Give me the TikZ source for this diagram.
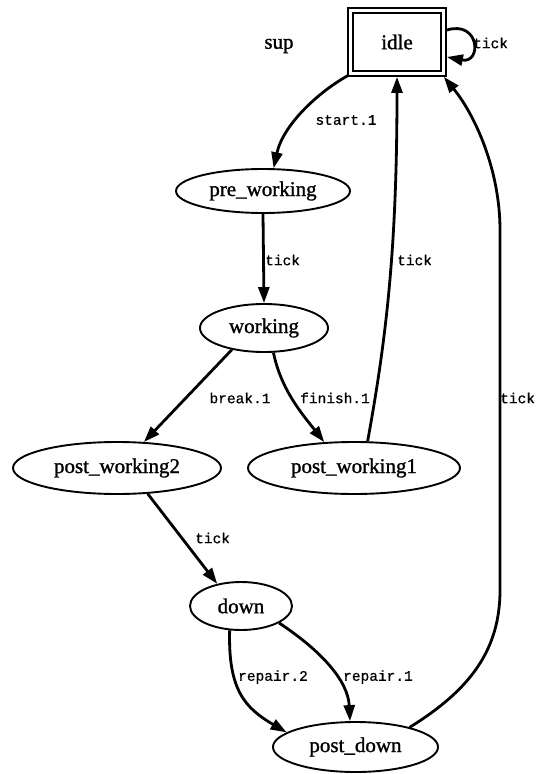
\documentclass[tikz,border=0pt]{standalone}
\usepackage{fontspec}
\setmainfont{Liberation Serif}
\newfontfamily\statefont[FakeBold=1.2]{Liberation Serif}
\newfontfamily\lblfont[FakeBold=0.6]{Liberation Mono}
\usetikzlibrary{arrows.meta,shapes.geometric}

\tikzset{
  state/.style={ellipse, draw, line width=1.9pt, inner sep=0pt, outer sep=0.95pt,
    font=\statefont\fontsize{21}{24}\selectfont},
  initstate/.style={rectangle, draw, line width=1.9pt, double, double distance=3pt,
    inner sep=0pt, outer sep=3.4pt, minimum width=93pt, minimum height=63pt,
    font=\statefont\fontsize{21}{24}\selectfont},
  trans/.style={line width=2.8pt, -{Triangle[length=16pt,width=11pt]}},
  tlabel/.style={font=\lblfont\fontsize{14.5}{17}\selectfont, inner sep=0pt},
}

\begin{document}
\begin{tikzpicture}[x=1pt, y=-1pt]
\useasboundingbox (0,0) rectangle (545,774);

% states
\node[initstate] (idle) at (397,42) {idle};
\node[font=\statefont\fontsize{21}{24}\selectfont] (sup) at (279,46) {sup};
\node[state, minimum width=174pt, minimum height=44pt] (pre)  at (263,191) {pre\_working};
\node[state, minimum width=128pt, minimum height=48pt] (work) at (264,328) {working};
\node[state, minimum width=208pt, minimum height=52pt] (pw2)  at (117,468) {post\_working2};
\node[state, minimum width=212pt, minimum height=52pt] (pw1)  at (354,468) {post\_working1};
\node[state, minimum width=102pt, minimum height=48pt] (down) at (241,606) {down};
\node[state, minimum width=165pt, minimum height=50pt] (pd)   at (355.5,747) {post\_down};

% transitions
\draw[trans] ([yshift=12pt]idle.east) .. controls (480,20) and (482,64) .. ([yshift=-15pt]idle.east);
\node[tlabel, anchor=west] (l0) at (473,43) {tick};

\draw[trans] ([xshift=2pt,yshift=2pt]idle.south west) .. controls (318,92) and (283,125) .. (pre.65);
\node[tlabel] (l1) at (346,120) {start.1};

\draw[trans] (pre.south) -- (work.north);
\node[tlabel, anchor=west] (l2) at (265,260) {tick};

\draw[trans] (work.214) -- (pw2.44);
\node[tlabel] (l3) at (240,398) {break.1};

\draw[trans] (work.291) .. controls (281,390) and (303,415) .. (pw1.139);
\node[tlabel] (l4) at (335,398) {finish.1};

\draw[trans] (pw1.63) .. controls (386,340) and (397,250) .. (idle.south);
\node[tlabel, anchor=west] (l5) at (397,260) {tick};

\draw[trans] (pw2.320) -- (down.137);
\node[tlabel, anchor=west] (l6) at (195,538) {tick};

\draw[trans] (down.245) .. controls (228,690) and (245,708) .. (pd.168.5);
\node[tlabel] (l7) at (273,677) {repair.2};

\draw[trans] (down.336) .. controls (320,650) and (348,680) .. (pd.102.4);
\node[tlabel] (l8) at (378,677) {repair.1};

\draw[trans] (pd.20) .. controls (470,690) and (500,650) .. (500,590) -- (500,230)
  .. controls (500,170) and (475,115) .. ([xshift=-3pt]idle.south east);
\node[tlabel, anchor=west] (l9) at (500,398) {tick};
\end{tikzpicture}
\end{document}
